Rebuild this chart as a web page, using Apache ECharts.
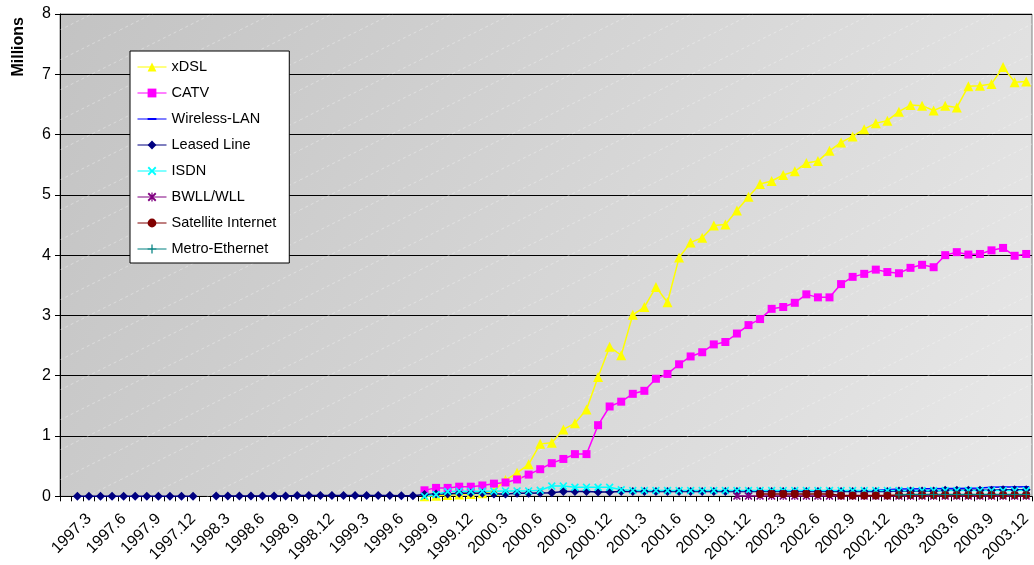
<!DOCTYPE html>
<html>
<head>
<meta charset="utf-8">
<script src="https://cdn.jsdelivr.net/npm/echarts@6/dist/echarts.min.js"></script>
<style>
  html, body { margin: 0; padding: 0; background: #fff; }
  #chart { width: 1034px; height: 565px; }
</style>
</head>
<body>
<div id="chart"></div>
<script>
// Monthly subscriber counts (millions), 1997.1 - 2003.12
const months = [
  '1997.1','1997.2','1997.3','1997.4','1997.5','1997.6','1997.7','1997.8','1997.9','1997.10','1997.11','1997.12',
  '1998.1','1998.2','1998.3','1998.4','1998.5','1998.6','1998.7','1998.8','1998.9','1998.10','1998.11','1998.12',
  '1999.1','1999.2','1999.3','1999.4','1999.5','1999.6','1999.7','1999.8','1999.9','1999.10','1999.11','1999.12',
  '2000.1','2000.2','2000.3','2000.4','2000.5','2000.6','2000.7','2000.8','2000.9','2000.10','2000.11','2000.12',
  '2001.1','2001.2','2001.3','2001.4','2001.5','2001.6','2001.7','2001.8','2001.9','2001.10','2001.11','2001.12',
  '2002.1','2002.2','2002.3','2002.4','2002.5','2002.6','2002.7','2002.8','2002.9','2002.10','2002.11','2002.12',
  '2003.1','2003.2','2003.3','2003.4','2003.5','2003.6','2003.7','2003.8','2003.9','2003.10','2003.11','2003.12'
];

const yTicks = [0, 1, 2, 3, 4, 5, 6, 7, 8];

const n = null;
// 1997.1 - 1999.7 have no xDSL / CATV / ISDN data
const xdsl = [
  n,n,n,n,n,n,n,n,n,n,n,n, n,n,n,n,n,n,n,n,n,n,n,n, n,n,n,n,n,n,n,
  0.00,0.01,0.02,0.03,0.04,
  0.05,0.09,0.27,0.39,0.53,0.87,0.89,1.11,1.21,1.44,1.98,2.48,
  2.34,3.01,3.14,3.47,3.22,3.96,4.21,4.29,4.49,4.51,4.74,4.97,
  5.18,5.23,5.33,5.39,5.53,5.56,5.73,5.87,5.97,6.09,6.19,6.23,
  6.38,6.49,6.48,6.40,6.48,6.45,6.80,6.81,6.84,7.12,6.87,6.88
];
const catv = [
  n,n,n,n,n,n,n,n,n,n,n,n, n,n,n,n,n,n,n,n,n,n,n,n, n,n,n,n,n,n,n,
  0.10,0.14,0.14,0.16,0.16,
  0.18,0.21,0.23,0.28,0.36,0.45,0.55,0.62,0.70,0.70,1.18,1.49,
  1.57,1.70,1.75,1.95,2.03,2.19,2.32,2.39,2.52,2.56,2.70,2.84,
  2.94,3.11,3.14,3.21,3.35,3.30,3.30,3.52,3.64,3.69,3.76,3.72,
  3.70,3.79,3.84,3.80,4.00,4.05,4.01,4.02,4.08,4.12,3.99,4.02
];
const wirelessLan = [
  n,n,n,n,n,n,n,n,n,n,n,n, n,n,n,n,n,n,n,n,n,n,n,n,
  n,n,n,n,n,n,n,n,n,n,n,n, n,n,n,n,n,n,n,n,n,n,n,n,
  n,n,n,n,n,n,n,n,n,n,n,n, n,n,n,n,n,n,n,n,n,n,
  0.10,0.11,
  0.12,0.12,0.125,0.125,0.13,0.13,0.135,0.14,0.15,0.155,0.155,0.16
];
const leasedLine = [
  n,0.002,0.002,0.002,0.002,0.002,0.002,0.002,0.002,0.002,0.002,0.002,
  n,0.004,0.004,0.004,0.004,0.004,0.004,0.004,0.012,0.012,0.012,0.012,
  0.012,0.012,0.012,0.012,0.012,0.011,0.011,0.03,0.04,0.04,0.05,0.05,
  0.05,0.04,0.04,0.05,0.05,0.055,0.06,0.08,0.08,0.08,0.07,0.07,
  0.08,0.08,0.08,0.08,0.08,0.08,0.08,0.08,0.08,0.08,0.08,0.08,
  0.08,0.08,0.08,0.08,0.08,0.08,0.08,0.08,0.08,0.08,0.08,0.08,
  0.09,0.09,0.09,0.09,0.10,0.10,0.10,0.10,0.10,0.11,0.11,0.11
];
const isdn = [
  n,n,n,n,n,n,n,n,n,n,n,n, n,n,n,n,n,n,n,n,n,n,n,n, n,n,n,n,n,n,n,
  0.00,0.03,0.08,0.085,0.085,
  0.085,0.085,0.09,0.09,0.09,0.10,0.17,0.17,0.15,0.15,0.15,0.15,
  0.11,0.095,0.095,0.095,0.095,0.095,0.095,0.095,0.095,0.095,0.095,0.095,
  0.095,0.095,0.095,0.095,0.095,0.095,0.095,0.095,0.095,0.095,0.095,0.095,
  0.095,0.095,0.095,0.095,0.095,0.095,0.095,0.095,0.095,0.095,0.095,0.095
];
const bwll = [
  n,n,n,n,n,n,n,n,n,n,n,n, n,n,n,n,n,n,n,n,n,n,n,n,
  n,n,n,n,n,n,n,n,n,n,n,n, n,n,n,n,n,n,n,n,n,n,n,n,
  n,n,n,n,n,n,n,n,n,n,0.004,0.004,
  0.004,0.004,0.004,0.004,0.004,0.004,0.004,0.004,0.004,0.004,0.004,0.004,
  0.004,0.004,0.004,0.004,0.004,0.004,0.004,0.004,0.004,0.004,0.004,0.004
];
const satellite = [
  n,n,n,n,n,n,n,n,n,n,n,n, n,n,n,n,n,n,n,n,n,n,n,n,
  n,n,n,n,n,n,n,n,n,n,n,n, n,n,n,n,n,n,n,n,n,n,n,n,
  n,n,n,n,n,n,n,n,n,n,n,n,
  0.04,0.04,0.04,0.04,0.04,0.04,0.04,0.012,0.012,0.012,0.012,0.012,
  0.022,0.022,0.022,0.022,0.022,0.022,0.022,0.022,0.022,0.022,0.022,0.022
];
const metroEthernet = [
  n,n,n,n,n,n,n,n,n,n,n,n, n,n,n,n,n,n,n,n,n,n,n,n,
  n,n,n,n,n,n,n,n,n,n,n,n, n,n,n,n,n,n,n,n,n,n,n,n,
  n,n,n,n,n,n,n,n,n,n,n,n, n,n,n,n,n,n,n,n,n,n,n,n,
  0.025,0.03,0.03,0.03,0.03,0.03,0.03,0.03,0.03,0.03,0.03,0.03
];

// marker shapes
const crossX = 'path://M1.5,0 L5,3.5 L8.5,0 L10,1.5 L6.5,5 L10,8.5 L8.5,10 L5,6.5 L1.5,10 L0,8.5 L3.5,5 L0,1.5 Z';
const plus = 'path://M4.3,0 H5.7 V4.3 H10 V5.7 H5.7 V10 H4.3 V5.7 H0 V4.3 H4.3 Z';
const star = 'path://M1.5,0 L5,3.5 L8.5,0 L10,1.5 L6.5,5 L10,8.5 L8.5,10 L5,6.5 L1.5,10 L0,8.5 L3.5,5 L0,1.5 Z M4.3,0 H5.7 V10 H4.3 Z';
// short horizontal dash inside a square box (corner points keep the box square)
const dash = 'path://M0,0 L0.01,0 L0,0.01 Z M6,6 L5.99,6 L6,5.99 Z M0,2.4 H6 V3.6 H0 Z';

function line(name, data, color, symbol, size) {
  return {
    name: name,
    type: 'line',
    data: data,
    symbol: symbol,
    symbolSize: size,
    showAllSymbol: true,
    connectNulls: false,
    animation: false,
    lineStyle: { color: color, width: 1.5 },
    itemStyle: { color: color }
  };
}

// faint diagonal dashed texture on the plot area
const texture = document.createElement('canvas');
texture.width = 60; texture.height = 30;
(function () {
  const c = texture.getContext('2d');
  c.strokeStyle = 'rgba(255,255,255,0.35)';
  c.lineWidth = 1;
  c.setLineDash([3, 3]);
  c.beginPath();
  c.moveTo(0, 30);
  c.lineTo(60, 0);
  c.stroke();
})();

const GRID = { left: 60, top: 14, right: 2, bottom: 68 };
const W = 1034, H = 565;

const chart = echarts.init(document.getElementById('chart'), null, { renderer: 'canvas' });

chart.setOption({
  animation: false,
  backgroundColor: '#ffffff',
  textStyle: { fontFamily: 'Liberation Sans, Arial, sans-serif' },
  grid: {
    left: GRID.left, top: GRID.top, right: GRID.right, bottom: GRID.bottom,
    show: true,
    borderColor: '#808080',
    borderWidth: 1,
    backgroundColor: new echarts.graphic.LinearGradient(0, 0, 1, 1, [
      { offset: 0, color: '#c3c3c3' },
      { offset: 1, color: '#e8e8e8' }
    ])
  },
  legend: {
    orient: 'vertical',
    left: 130, top: 51,
    padding: [8, 13, 6, 7],
    itemWidth: 29, itemHeight: 11, itemGap: 10,
    backgroundColor: '#ffffff',
    borderColor: '#000000', borderWidth: 1, borderRadius: 0,
    lineStyle: { width: 1 },
    textStyle: { fontSize: 14.5, lineHeight: 16, color: '#000', fontFamily: 'Liberation Sans, Arial, sans-serif' },
    data: ['xDSL','CATV','Wireless-LAN','Leased Line','ISDN','BWLL/WLL','Satellite Internet','Metro-Ethernet']
  },
  xAxis: {
    type: 'category',
    data: months,
    boundaryGap: true,
    axisLine: { lineStyle: { color: '#000', width: 1 } },
    axisTick: { show: true, interval: 0, length: 5, lineStyle: { color: '#000' } },
    axisLabel: {
      interval: function (idx) { return idx % 3 === 2; },
      rotate: 45,
      fontSize: 16,
      color: '#000',
      margin: 20
    },
    splitLine: { show: false }
  },
  yAxis: {
    type: 'value',
    min: yTicks[0], max: yTicks[yTicks.length - 1], interval: 1,
    axisLine: { show: true, lineStyle: { color: '#000', width: 1 } },
    axisTick: { show: true, length: 5, lineStyle: { color: '#000' } },
    axisLabel: { fontSize: 16, color: '#000', margin: 9 },
    splitLine: { show: true, lineStyle: { color: '#000', width: 1 } }
  },
  graphic: [
    {
      type: 'rect',
      z: 1,
      silent: true,
      shape: { x: GRID.left, y: GRID.top, width: W - GRID.left - GRID.right, height: H - GRID.top - GRID.bottom },
      style: { fill: { image: texture, repeat: 'repeat' } }
    },
    {
      type: 'text',
      left: 11, top: 17,
      rotation: Math.PI / 2,
      style: {
        text: 'Millions',
        font: 'bold 16px Liberation Sans, Arial, sans-serif',
        fill: '#000'
      }
    }
  ],
  series: [
    line('xDSL', xdsl, '#FFFF00', 'triangle', 10),
    line('CATV', catv, '#FF00FF', 'rect', 8),
    line('Wireless-LAN', wirelessLan, '#0000FF', dash, 6),
    line('Leased Line', leasedLine, '#000080', 'diamond', 9),
    line('ISDN', isdn, '#00FFFF', crossX, 8),
    line('BWLL/WLL', bwll, '#800080', star, 8),
    line('Satellite Internet', satellite, '#800000', 'circle', 8),
    line('Metro-Ethernet', metroEthernet, '#008080', plus, 8)
  ]
});
</script>
</body>
</html>
